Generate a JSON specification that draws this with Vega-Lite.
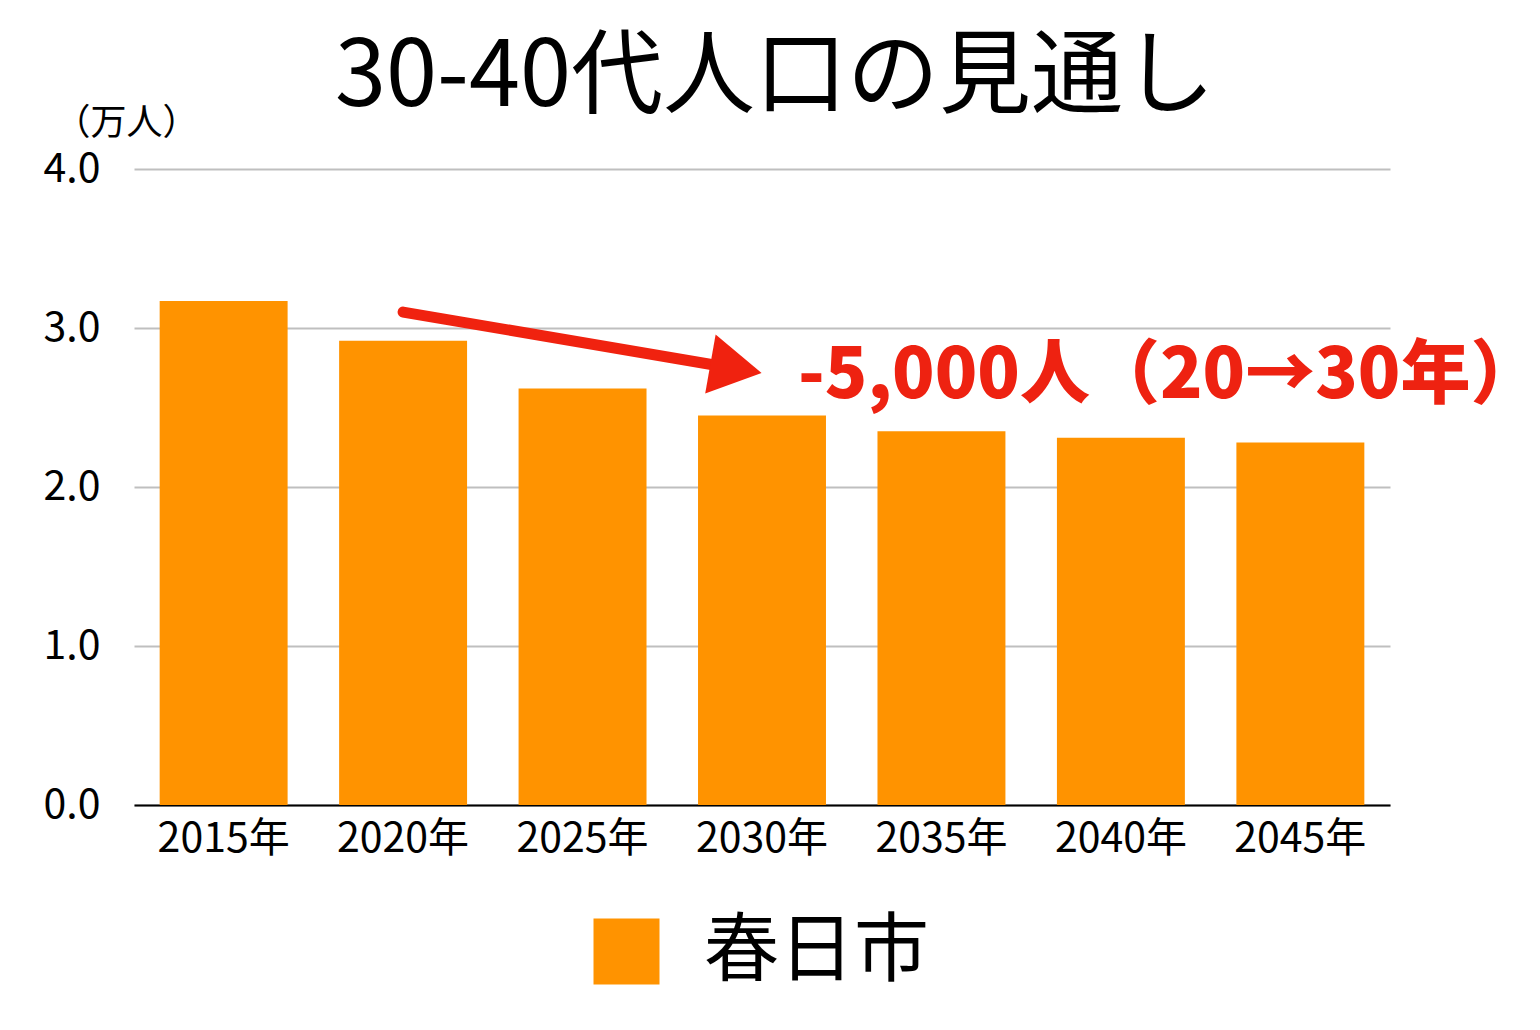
{
  "$schema": "https://vega.github.io/schema/vega-lite/v6.json",
  "description": "30-40代人口の見通し (春日市)",
  "autosize": "none",
  "padding": {"left": 134, "top": 169, "right": 150, "bottom": 225},
  "width": 1256,
  "height": 636,
  "title": {
    "text": "30-40代人口の見通し",
    "font": "Noto Sans CJK JP",
    "fontSize": 92,
    "fontWeight": "normal",
    "color": "black",
    "anchor": "middle",
    "frame": "group",
    "baseline": "alphabetic",
    "offset": -93,
    "dx": 13
  },
  "config": {
    "view": {"stroke": "transparent"},
    "font": "Noto Sans CJK JP"
  },
  "layer": [
    {
      "data": {
        "values": [
          {"year": "2015年", "value": 3.17, "city": "春日市"},
          {"year": "2020年", "value": 2.92, "city": "春日市"},
          {"year": "2025年", "value": 2.62, "city": "春日市"},
          {"year": "2030年", "value": 2.45, "city": "春日市"},
          {"year": "2035年", "value": 2.35, "city": "春日市"},
          {"year": "2040年", "value": 2.31, "city": "春日市"},
          {"year": "2045年", "value": 2.28, "city": "春日市"}
        ]
      },
      "mark": {"type": "bar"},
      "encoding": {
        "x": {
          "field": "year",
          "type": "nominal",
          "scale": {
            "domain": ["2015年", "2020年", "2025年", "2030年", "2035年", "2040年", "2045年"],
            "paddingInner": 0.287,
            "paddingOuter": 0.143
          },
          "axis": {
            "title": null,
            "labelAngle": 0,
            "labelFontSize": 41,
            "labelColor": "black",
            "labelPadding": 14,
            "ticks": false,
            "domainColor": "black",
            "domainWidth": 2,
            "grid": false
          }
        },
        "y": {
          "field": "value",
          "type": "quantitative",
          "scale": {"domain": [0, 4]},
          "axis": {
            "values": [0, 1, 2, 3, 4],
            "format": ".1f",
            "title": "（万人）",
            "titleAngle": 0,
            "titleFontSize": 36,
            "titleFontWeight": "normal",
            "titleColor": "black",
            "titleX": -8,
            "titleY": -46,
            "titleAlign": "center",
            "titleBaseline": "middle",
            "labelFontSize": 41,
            "labelColor": "black",
            "labelPadding": 34,
            "ticks": false,
            "domain": false,
            "gridColor": "#bfbfbf",
            "gridWidth": 2
          }
        },
        "color": {
          "field": "city",
          "type": "nominal",
          "scale": {"range": ["#ff9300"]},
          "legend": {
            "title": null,
            "orient": "none",
            "legendX": 455,
            "legendY": 745,
            "padding": 0,
            "symbolType": "square",
            "symbolSize": 4356,
            "symbolStrokeWidth": 0,
            "symbolOpacity": 1,
            "labelFontSize": 75,
            "labelColor": "black",
            "labelOffset": 40,
            "labelLimit": 400
          }
        }
      }
    },
    {
      "data": {"values": [{"from": "2020年", "to": "2030年", "y1": 3.10, "y2": 2.717}]},
      "mark": {"type": "rule", "color": "#f0220f", "strokeWidth": 11, "strokeCap": "round", "x2Offset": -30, "y2Offset": -5},
      "encoding": {
        "x": {"field": "from", "type": "nominal"},
        "x2": {"field": "to"},
        "y": {"field": "y1", "type": "quantitative"},
        "y2": {"field": "y2"}
      }
    },
    {
      "data": {"values": [{"at": "2030年", "y": 2.745}]},
      "mark": {"type": "point", "shape": "triangle-right", "filled": true, "color": "#f0220f", "opacity": 1, "size": 3600, "angle": 10, "xOffset": -26},
      "encoding": {
        "x": {"field": "at", "type": "nominal"},
        "y": {"field": "y", "type": "quantitative"}
      }
    },
    {
      "data": {"values": [{"at": "2030年", "y": 2.69, "label": "-5,000人（20→30年）"}]},
      "mark": {"type": "text", "align": "left", "baseline": "middle", "dx": 36, "fontSize": 70, "fontWeight": 900, "color": "#ee2211", "font": "Noto Sans CJK JP"},
      "encoding": {
        "x": {"field": "at", "type": "nominal"},
        "y": {"field": "y", "type": "quantitative"},
        "text": {"field": "label"}
      }
    }
  ]
}
